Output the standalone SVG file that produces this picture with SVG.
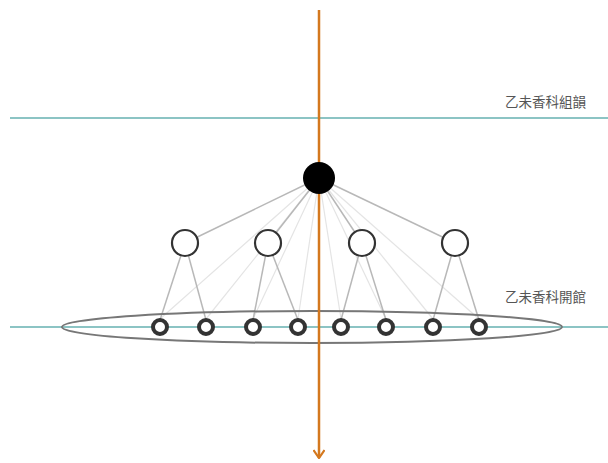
<svg xmlns="http://www.w3.org/2000/svg" width="608" height="463" viewBox="0 0 608 463">
<defs>
<style>
.lvl{stroke:#8cc4c4;stroke-width:2;}
.lbl{font-family:"Noto Sans CJK TC","Noto Sans CJK SC",sans-serif;font-size:13.5px;fill:#555;}
.e{stroke:#b8b8b8;stroke-width:1.5;fill:none;}
.f{stroke:#e4e4e4;stroke-width:1.2;fill:none;}
.mid{fill:#fff;stroke:#333;stroke-width:2.2;}
.ring{fill:#fff;stroke:#333;stroke-width:4;}
</style>
<marker id="arr" viewBox="0 0 10 12" refX="9" refY="6" markerWidth="10" markerHeight="12" orient="auto" markerUnits="userSpaceOnUse">
<path d="M1,0.5 L9,6 L1,11.5" fill="none" stroke="#d4781e" stroke-width="2.2"/>
</marker>
</defs>
<rect width="608" height="463" fill="#fff"/>
<g id="levels">
<line class="lvl" x1="10" y1="118" x2="608" y2="118"/>
<text class="lbl" x="505" y="107">乙未香科組韻</text>
<line class="lvl" x1="10" y1="327" x2="608" y2="327"/>
<text class="lbl" x="505" y="302">乙未香科開館</text>
</g>
<g id="connectors">
<line class="f" x1="319" y1="178" x2="160" y2="319"/>
<line class="f" x1="319" y1="178" x2="206" y2="319"/>
<line class="f" x1="319" y1="178" x2="253" y2="319"/>
<line class="f" x1="319" y1="178" x2="298" y2="319"/>
<line class="f" x1="319" y1="178" x2="341" y2="319"/>
<line class="f" x1="319" y1="178" x2="386" y2="319"/>
<line class="f" x1="319" y1="178" x2="433" y2="319"/>
<line class="f" x1="319" y1="178" x2="479" y2="319"/>
<line class="e" x1="319" y1="178" x2="185" y2="243"/>
<line class="e" x1="319" y1="178" x2="268" y2="243"/>
<line class="e" x1="319" y1="178" x2="362" y2="243"/>
<line class="e" x1="319" y1="178" x2="455" y2="243"/>
<line class="e" x1="185" y1="243" x2="160" y2="320"/>
<line class="e" x1="185" y1="243" x2="206" y2="320"/>
<line class="e" x1="268" y1="243" x2="253" y2="320"/>
<line class="e" x1="268" y1="243" x2="298" y2="320"/>
<line class="e" x1="362" y1="243" x2="341" y2="320"/>
<line class="e" x1="362" y1="243" x2="386" y2="320"/>
<line class="e" x1="455" y1="243" x2="433" y2="320"/>
<line class="e" x1="455" y1="243" x2="479" y2="320"/>
</g>
<g id="group-ellipse">
<ellipse cx="312" cy="327" rx="250" ry="16" fill="none" stroke="#777" stroke-width="2"/>
</g>
<g id="axis">
<line x1="319" y1="10" x2="319" y2="458" stroke="#d4781e" stroke-width="2.5" marker-end="url(#arr)"/>
</g>
<g id="root"><circle cx="319" cy="178" r="16" fill="#000"/></g>
<g id="m1"><circle class="mid" cx="185" cy="243" r="13"/></g>
<g id="m2"><circle class="mid" cx="268" cy="243" r="13"/></g>
<g id="m3"><circle class="mid" cx="362" cy="243" r="13"/></g>
<g id="m4"><circle class="mid" cx="455" cy="243" r="13"/></g>
<g id="r1"><circle class="ring" cx="160" cy="327" r="7"/></g>
<g id="r2"><circle class="ring" cx="206" cy="327" r="7"/></g>
<g id="r3"><circle class="ring" cx="253" cy="327" r="7"/></g>
<g id="r4"><circle class="ring" cx="298" cy="327" r="7"/></g>
<g id="r5"><circle class="ring" cx="341" cy="327" r="7"/></g>
<g id="r6"><circle class="ring" cx="386" cy="327" r="7"/></g>
<g id="r7"><circle class="ring" cx="433" cy="327" r="7"/></g>
<g id="r8"><circle class="ring" cx="479" cy="327" r="7"/></g>
</svg>
